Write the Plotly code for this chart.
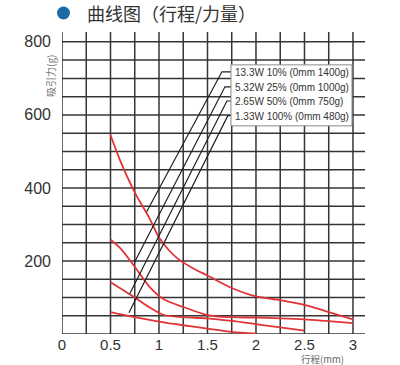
import plotly.graph_objects as go

# ---- data ----
series_names = ["13.3W 10% (0mm 1400g)", "5.32W 25% (0mm 1000g)",
                "2.65W 50% (0mm 750g)", "1.33W 100% (0mm 480g)"]

stroke_a = [0.5, 0.6, 0.75, 0.9, 1.0, 1.1, 1.2, 1.35, 1.5, 1.75, 2.0, 2.25, 2.5, 2.75, 3.0]
force_a = [545, 475, 388, 318, 264, 230, 205, 180, 160, 126, 103, 93, 80, 60, 40]

stroke_b = [0.5, 0.6, 0.75, 0.9, 1.05, 1.25, 1.5, 1.75, 2.0, 2.25, 2.5, 2.75, 3.0]
force_b = [258, 235, 184, 130, 95, 74, 52, 46, 45, 43, 40, 35, 30]

stroke_c = [0.5, 0.6, 0.75, 0.9, 1.05, 1.25, 1.5, 1.75, 2.0, 2.25, 2.5]
force_c = [142, 125, 100, 73, 52, 46, 43, 36, 27, 18, 9]

stroke_d = [0.5, 0.75, 1.0, 1.25, 1.5, 1.75, 2.0]
force_d = [60, 46, 34, 24, 15, 6, 1]

# leader line anchor points on each curve (stroke mm, force g)
leader_stroke = [0.873, 0.745, 0.70, 0.69]
leader_force = [335, 195, 111, 58]

x_tick_vals = [0, 0.5, 1, 1.5, 2, 2.5, 3]
x_tick_text = ["0", "0.5", "1", "1.5", "2", "2.5", "3"]
y_tick_vals = [200, 400, 600, 800]
y_tick_text = ["200", "400", "600", "800"]

title_text = "曲线图（行程/力量）"
y_title = "吸引力(g)"
x_title = "行程(mm)"

# ---- figure ----
RED = "#e03436"
GRID = "#353535"
X_MAX, Y_MAX = 3.124, 827

fig = go.Figure()

for sx, sy, nm in [(stroke_a, force_a, series_names[0]), (stroke_b, force_b, series_names[1]),
                   (stroke_c, force_c, series_names[2]), (stroke_d, force_d, series_names[3])]:
    fig.add_trace(go.Scatter(x=sx, y=sy, mode="lines", name=nm,
                             line=dict(color=RED, width=1.8, shape="spline", smoothing=0.9),
                             showlegend=False, hoverinfo="skip"))

# legend box geometry (data coords)
box_x0, box_x1 = 1.742, 2.99
box_y0, box_y1 = 570, 737
label_y = [716, 675, 636, 596]
top_x = [1.649, 1.68, 1.70, 1.71]

for i in range(4):
    fig.add_trace(go.Scatter(x=[leader_stroke[i], top_x[i], box_x0],
                             y=[leader_force[i], label_y[i] + 2, label_y[i] + 2],
                             mode="lines", line=dict(color="#1e1e1e", width=1.2),
                             showlegend=False, hoverinfo="skip"))

shapes = []
# vertical grid lines (extend a bit above 800)
for k in range(13):
    xv = 0.25 * k
    shapes.append(dict(type="line", xref="x", yref="y", x0=xv, x1=xv, y0=0, y1=Y_MAX,
                       line=dict(color=GRID, width=1.5), layer="below"))
# horizontal grid lines (extend a bit right of 3)
for k in range(17):
    yv = 50 * k
    shapes.append(dict(type="line", xref="x", yref="y", x0=0, x1=X_MAX, y0=yv, y1=yv,
                       line=dict(color=GRID, width=1.5), layer="below"))
# legend box
shapes.append(dict(type="rect", xref="x", yref="y", x0=box_x0, x1=box_x1, y0=box_y0, y1=box_y1,
                   fillcolor="white", line=dict(color="#8a8a8a", width=1), layer="above"))
# title dot
shapes.append(dict(type="circle", xref="paper", yref="paper",
                   x0=(57 - 62) / 303, x1=(70 - 62) / 303,
                   y0=(334 - 19.5) / 302, y1=(334 - 6.5) / 302,
                   fillcolor="#1b6aa5", line=dict(width=0)))

annotations = []
for i in range(4):
    annotations.append(dict(x=box_x0 + 0.02, y=label_y[i], xref="x", yref="y",
                            text=series_names[i], showarrow=False, xanchor="left", yanchor="middle",
                            font=dict(family="Liberation Sans, Arial, sans-serif", size=10, color="#333")))
annotations.append(dict(x=(85 - 62) / 303, y=(334 - 13) / 302, xref="paper", yref="paper",
                        text=title_text, showarrow=False, xanchor="left", yanchor="middle",
                        font=dict(family="Noto Sans CJK SC", size=18, color="#333")))
annotations.append(dict(x=(50 - 62) / 303, y=(334 - 76) / 302, xref="paper", yref="paper",
                        text=y_title, showarrow=False, textangle=-90, xanchor="center", yanchor="middle",
                        font=dict(family="Noto Sans CJK SC", size=10, color="#777")))
annotations.append(dict(x=(322 - 62) / 303, y=(334 - 358.5) / 302, xref="paper", yref="paper",
                        text=x_title, showarrow=False, xanchor="center", yanchor="middle",
                        borderpad=0,
                        font=dict(family="Noto Sans CJK SC", size=9.5, color="#666")))

fig.update_layout(
    width=400, height=365,
    margin=dict(l=62, r=35, t=32, b=31, autoexpand=False),
    paper_bgcolor="white", plot_bgcolor="white",
    shapes=shapes, annotations=annotations,
    showlegend=False,
)
fig.update_xaxes(range=[0, X_MAX], tickvals=x_tick_vals, ticktext=x_tick_text,
                 showgrid=False, zeroline=False, showline=False, ticks="",
                 ticklabelstandoff=0,
                 tickfont=dict(family="Liberation Sans, Arial, sans-serif", size=15, color="#333"),
                 fixedrange=True)
fig.update_yaxes(range=[0, Y_MAX], tickvals=y_tick_vals, ticktext=y_tick_text,
                 showgrid=False, zeroline=False, showline=False, ticks="",
                 ticklabelstandoff=10,
                 tickfont=dict(family="Liberation Sans, Arial, sans-serif", size=16, color="#333"),
                 fixedrange=True)

fig.write_html("out.html", config={"displayModeBar": False},
               post_script="document.body.style.margin='0';document.body.style.padding='0';")
